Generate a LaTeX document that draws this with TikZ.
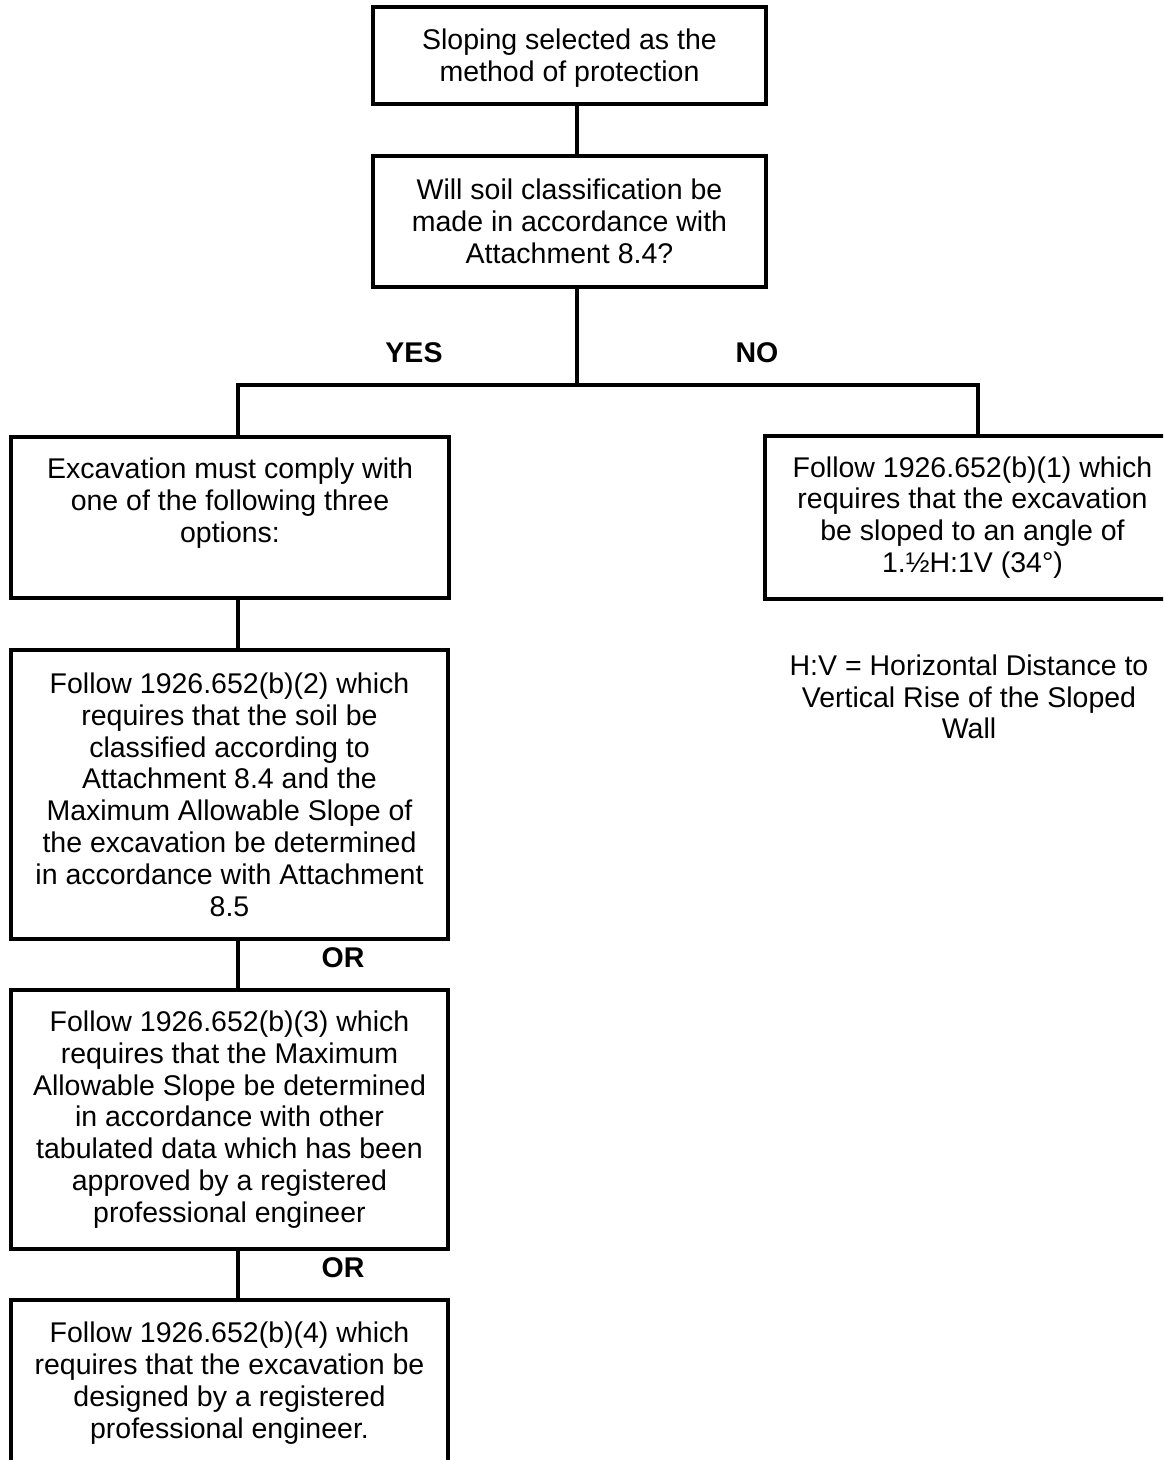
\documentclass[tikz,border=0pt]{standalone}
\usepackage{fontspec}
\setmainfont{Liberation Sans}
\begin{document}
\begin{tikzpicture}[x=1pt,y=-1pt,
  box/.style={draw, line width=3.2pt, rectangle, align=center, inner sep=0pt,
    font=\fontsize{28.5}{31.8}\selectfont},
  plain/.style={align=center, inner sep=0pt, font=\fontsize{28.5}{31.8}\selectfont},
  lbl/.style={inner sep=0pt, font=\fontsize{28.5}{31.8}\selectfont\bfseries},
  conn/.style={line width=3.2pt}]
\clip (0,0) rectangle (1163,1460);
\fill[white] (0,0) rectangle (1163,1460);
% spine coordinates
\coordinate (S) at (577,0);
\coordinate (L) at (238,0);
\coordinate (R) at (978,0);
\coordinate (J) at (577,385);
% boxes
\node[box, minimum width=393pt, minimum height=97pt, text depth=0pt] (b1) at (569.5,55.5)
  {Sloping selected as the\\method of protection};
\node[box, minimum width=393pt, minimum height=131pt] (b2) at (569.5,221.5)
  {Will soil classification be\\made in accordance with\\Attachment 8.4?};
\node[box, minimum width=438pt, minimum height=161pt, text depth=35pt] (b3) at (230,517.5)
  {Excavation must comply with\\one of the following three\\options:};
\node[box, minimum width=415pt, minimum height=163pt] (rb) at (972.5,517.5)
  {Follow 1926.652(b)(1) which\\requires that the excavation\\be sloped to an angle of\\1.½H:1V (34°)};
\node[box, minimum width=437pt, minimum height=289pt] (b4) at (229.5,794.5)
  {Follow 1926.652(b)(2) which\\requires that the soil be\\classified according to\\Attachment 8.4 and the\\Maximum Allowable Slope of\\the excavation be determined\\in accordance with Attachment\\8.5};
\node[box, minimum width=437pt, minimum height=259pt] (b5) at (229.5,1119.5)
  {Follow 1926.652(b)(3) which\\requires that the Maximum\\Allowable Slope be determined\\in accordance with other\\tabulated data which has been\\approved by a registered\\professional engineer};
\node[box, minimum width=437pt, minimum height=166pt] (b6) at (229.5,1383)
  {Follow 1926.652(b)(4) which\\requires that the excavation be\\designed by a registered\\professional engineer.};
% labels
\node[lbl] (yes) at (414,353) {YES};
\node[lbl] (no) at (757,353) {NO};
\node[lbl] (or1) at (343,957.5) {OR};
\node[lbl] (or2) at (343,1267.5) {OR};
\node[plain] (note) at (969,697)
  {H:V = Horizontal Distance to\\Vertical Rise of the Sloped\\Wall};
% connectors
\draw[conn] (b1.south -| S) -- (b2.north -| S);
\draw[conn] (b2.south -| S) -- (J);
\draw[conn] (b3.north -| L) |- (J) -| (rb.north -| R);
\draw[conn] (b3.south -| L) -- (b4.north -| L);
\draw[conn] (b4.south -| L) -- (b5.north -| L);
\draw[conn] (b5.south -| L) -- (b6.north -| L);
\end{tikzpicture}
\end{document}
